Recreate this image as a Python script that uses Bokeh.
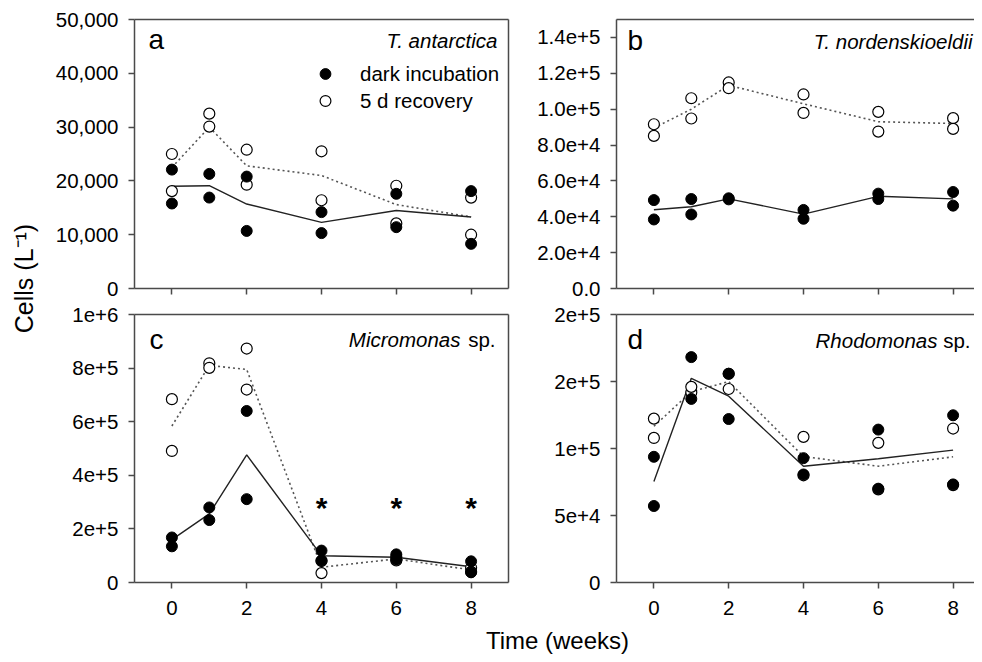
import numpy as np
from bokeh.plotting import figure
from bokeh.models import Range1d, FixedTicker, LinearAxis, Legend, LegendItem, CustomLabelingPolicy
from bokeh.layouts import row, column
from bokeh.core.properties import value
from bokeh.embed import file_html
from bokeh.resources import INLINE

# ---------------- data ----------------
weeks = [0, 1, 2, 4, 6, 8]
x_ticks = [0, 2, 4, 6, 8]
x_tick_labels = ["0", "2", "4", "6", "8"]

# (a) T. antarctica
a_dark_rep1 = [22100, 21300, 20800, 14200, 17600, 18100]
a_dark_rep2 = [15800, 16900, 10700, 10300, 11400, 8300]
a_dark_mean = [19000, 19100, 15700, 12300, 14500, 13300]
a_rec_rep1 = [25000, 32500, 25800, 25500, 19100, 16900]
a_rec_rep2 = [18100, 30100, 19300, 16400, 12100, 10000]
a_rec_mean = [22500, 30000, 22800, 21000, 15600, 13300]
a_yticks = [0, 10000, 20000, 30000, 40000, 50000]
a_ylabels = ["0", "10,000", "20,000", "30,000", "40,000", "50,000"]

# (b) T. nordenskioeldii
b_dark_rep1 = [49300, 49900, 50300, 43800, 52900, 53800]
b_dark_rep2 = [38500, 41300, 49700, 38900, 49900, 46200]
b_dark_mean = [43900, 45600, 50000, 41500, 51400, 50000]
b_rec_rep1 = [91600, 106100, 114900, 108200, 98500, 95000]
b_rec_rep2 = [85100, 94800, 111700, 97900, 87500, 89000]
b_rec_mean = [89500, 100000, 113300, 103000, 93000, 92000]
b_yticks = [0, 20000, 40000, 60000, 80000, 100000, 120000, 140000]
b_ylabels = ["0.0", "2.0e+4", "4.0e+4", "6.0e+4", "8.0e+4", "1.0e+5", "1.2e+5", "1.4e+5"]

# (c) Micromonas sp.
c_dark_rep1 = [168000, 280000, 640000, 119000, 105000, 79000]
c_dark_rep2 = [135000, 233000, 311000, 82000, 85000, 38000]
c_dark_mean = [160000, 256000, 476000, 100000, 94000, 59000]
c_rec_rep1 = [684000, 818000, 873000, 35000, 95000, 55000]
c_rec_rep2 = [491000, 801000, 720000, 80000, 82000, 40000]
c_rec_mean = [584000, 810000, 795000, 57000, 88000, 47000]
c_sig_weeks = [4, 6, 8]
c_yticks = [0, 200000, 400000, 600000, 800000, 1000000]
c_ylabels = ["0", "2e+5", "4e+5", "6e+5", "8e+5", "1e+6"]

# (d) Rhodomonas sp.
d_dark_rep1 = [93800, 168200, 155800, 92800, 114100, 124800]
d_dark_rep2 = [57100, 137000, 122000, 80600, 70000, 73200]
d_dark_mean = [75400, 152400, 139000, 86800, 92300, 98800]
d_rec_rep1 = [122300, 141900, 144400, 108700, 104200, 114900]
d_rec_rep2 = [107900, 146000, 155800, 80000, 69500, 72700]
d_rec_mean = [116600, 142400, 149900, 94000, 86800, 93800]
d_yticks = [0, 50000, 100000, 150000, 200000]
d_ylabels = ["0", "5e+4", "1e+5", "2e+5", "2e+5"]

# ---------------- style ----------------
FONT = "Liberation Sans"
AX = "#4a4a4a"
TICK_FS = "20.5px"
PX_PER_WEEK = 37.4
FRAME_H = 269


def px2data(p, fw, fh, dx, dy):
    x0, x1 = p.x_range.start, p.x_range.end
    y0, y1 = p.y_range.start, p.y_range.end
    return x0 + dx * (x1 - x0) / fw, y1 - dy * (y1 - y0) / fh


def style_axis(ax):
    ax.axis_line_color = AX
    ax.axis_line_width = 1.5
    ax.major_tick_line_color = AX
    ax.major_tick_line_width = 1.5
    ax.major_tick_out = 6
    ax.major_tick_in = 0
    ax.minor_tick_out = 0
    ax.minor_tick_in = 0
    ax.major_label_text_font = FONT
    ax.major_label_text_font_size = TICK_FS
    ax.major_label_text_color = "black"


def border_axis(p, place):
    ax = LinearAxis(ticker=FixedTicker(ticks=[]))
    ax.axis_line_color = AX
    ax.axis_line_width = 1.5
    ax.major_tick_out = 0
    ax.major_tick_in = 0
    ax.minor_tick_out = 0
    ax.minor_tick_in = 0
    ax.major_label_standoff = 0
    ax.major_label_text_font_size = "0px"
    p.add_layout(ax, place)


def make_panel(width, height, mbl, mbr, mbt, mbb, ymax, yticks, ylabels,
               show_xlabels, right_border, dark1, dark2, dmean, rec1, rec2, rmean):
    fw = width - mbl - mbr
    x_end = -1 + fw / PX_PER_WEEK
    p = figure(width=width, height=height,
               x_range=Range1d(-1, x_end), y_range=Range1d(0, ymax),
               output_backend="svg", toolbar_location=None,
               min_border_left=mbl, min_border_right=mbr,
               min_border_top=mbt, min_border_bottom=mbb)
    p.xgrid.visible = False
    p.ygrid.visible = False
    p.outline_line_color = None
    p.background_fill_color = "white"
    p.border_fill_color = "white"

    style_axis(p.xaxis[0])
    style_axis(p.yaxis[0])
    p.xaxis[0].ticker = FixedTicker(ticks=x_ticks)
    p.xaxis[0].major_label_overrides = {float(t): l for t, l in zip(x_ticks, x_tick_labels)}
    if show_xlabels:
        p.xaxis[0].major_label_standoff = 12
    else:
        p.xaxis[0].major_label_standoff = 0
        p.xaxis[0].major_label_text_font_size = "0px"
        p.xaxis[0].major_label_policy = CustomLabelingPolicy(
            code="for (const i of indices) { indices.unset(i) }\nreturn indices")
    p.yaxis[0].ticker = FixedTicker(ticks=yticks)
    p.yaxis[0].major_label_overrides = {float(t): l for t, l in zip(yticks, ylabels)}
    p.yaxis[0].major_label_standoff = 10

    border_axis(p, "above")
    if right_border:
        border_axis(p, "right")

    p.line(weeks, rmean, line_color="#555555", line_width=1.6, line_dash="2 3")
    p.line(weeks, dmean, line_color="#222222", line_width=1.4)
    r_rec = p.scatter(weeks + weeks, rec1 + rec2, marker="circle", size=11,
                      fill_color="white", line_color="black", line_width=1.2)
    r_dark = p.scatter(weeks + weeks, dark1 + dark2, marker="circle", size=11,
                       fill_color="black", line_color="black", line_width=1)
    return p, fw, r_dark, r_rec


def add_letter(p, fw, letter, dx, dy):
    x, y = px2data(p, fw, FRAME_H, dx, dy)
    p.text(x=[x], y=[y], text=[letter], text_font=value(FONT),
           text_font_size=value("28px"), text_color="black",
           text_align="left", text_baseline="alphabetic")


def add_species(p, fw, italic_part, normal_part, dx_right, dy, gap):
    x, y = px2data(p, fw, FRAME_H, dx_right, dy)
    if normal_part:
        p.text(x=[x], y=[y], text=[normal_part], text_font=value(FONT),
               text_font_size=value(TICK_FS), text_color="black",
               text_align="right", text_baseline="alphabetic")
        x, _ = px2data(p, fw, FRAME_H, dx_right - gap, dy)
    p.text(x=[x], y=[y], text=[italic_part], text_font=value(FONT),
           text_font_size=value(TICK_FS), text_font_style=value("italic"),
           text_color="black", text_align="right", text_baseline="alphabetic")


# ---------------- panels ----------------
YLW = 48
LW, RW = 472, 454
TH, BH = 300, 325

pa, fwa, a_dark_r, a_rec_r = make_panel(LW, TH, 86, 12, 19, 12, 50000, a_yticks, a_ylabels,
                                        False, True, a_dark_rep1, a_dark_rep2, a_dark_mean,
                                        a_rec_rep1, a_rec_rep2, a_rec_mean)
pb, fwb, _, _ = make_panel(RW, TH, 96, 0, 19, 12, 150000, b_yticks, b_ylabels,
                           False, False, b_dark_rep1, b_dark_rep2, b_dark_mean,
                           b_rec_rep1, b_rec_rep2, b_rec_mean)
pc, fwc, _, _ = make_panel(LW, BH, 86, 12, 13, 43, 1000000, c_yticks, c_ylabels,
                           True, True, c_dark_rep1, c_dark_rep2, c_dark_mean,
                           c_rec_rep1, c_rec_rep2, c_rec_mean)
pd_, fwd, _, _ = make_panel(RW, BH, 96, 0, 14, 42, 200000, d_yticks, d_ylabels,
                            True, False, d_dark_rep1, d_dark_rep2, d_dark_mean,
                            d_rec_rep1, d_rec_rep2, d_rec_mean)

add_letter(pa, fwa, "a", 14, 20)
add_letter(pb, fwb, "b", 11, 21)
add_letter(pc, fwc, "c", 15, 25)
add_letter(pd_, fwd, "d", 11, 25)

add_species(pa, fwa, "T. antarctica", None, 363, 21, 0)
add_species(pb, fwb, "T. nordenskioeldii", None, 356, 22, 0)
add_species(pc, fwc, "Micromonas", "sp.", 361, 25, 35)
add_species(pd_, fwd, "Rhodomonas", "sp.", 354, 26, 33)

# asterisks in panel c
_, sig_y = px2data(pc, fwc, FRAME_H, 0, 194)
pc.text(x=c_sig_weeks, y=[sig_y] * len(c_sig_weeks), text=["*"] * len(c_sig_weeks),
        text_font=value(FONT), text_font_size=value("30px"), text_font_style=value("bold"),
        text_color="black", text_align="center", text_baseline="alphabetic")

legend = Legend(items=[LegendItem(label="dark incubation", renderers=[a_dark_r]),
                       LegendItem(label="5 d recovery", renderers=[a_rec_r])],
                location=(177, 174), orientation="vertical",
                glyph_width=28, glyph_height=27, label_height=27, label_standoff=21,
                spacing=0, padding=0, margin=0,
                border_line_color=None, background_fill_alpha=0,
                label_text_font=FONT, label_text_font_size=TICK_FS,
                label_text_color="black")
pa.add_layout(legend)

# ---------------- global axis titles ----------------
YLH = TH + BH
ylab = figure(width=YLW, height=YLH, x_range=Range1d(0, YLW), y_range=Range1d(0, YLH),
              x_axis_type=None, y_axis_type=None, output_backend="svg",
              toolbar_location=None, min_border=0, title=None)
ylab.outline_line_color = None
ylab.xgrid.visible = False
ylab.ygrid.visible = False
ylab.text(x=[23], y=[YLH - 278], text=["Cells (L\u207b\u00b9)"], angle=np.pi / 2,
          text_font=value(FONT), text_font_size=value("25px"), text_color="black",
          text_align="center", text_baseline="middle")

XLW, XLH = YLW + LW + RW, 29
xlab = figure(width=XLW, height=XLH, x_range=Range1d(0, XLW), y_range=Range1d(0, XLH),
              x_axis_type=None, y_axis_type=None, output_backend="svg",
              toolbar_location=None, min_border=0, title=None)
xlab.outline_line_color = None
xlab.xgrid.visible = False
xlab.ygrid.visible = False
xlab.text(x=[557], y=[14], text=["Time (weeks)"],
          text_font=value(FONT), text_font_size=value("24px"), text_color="black",
          text_align="center", text_baseline="alphabetic")

layout = column(row(ylab, column(row(pa, pb), row(pc, pd_))), xlab)

open("out.html", "w").write(file_html(layout, INLINE))
